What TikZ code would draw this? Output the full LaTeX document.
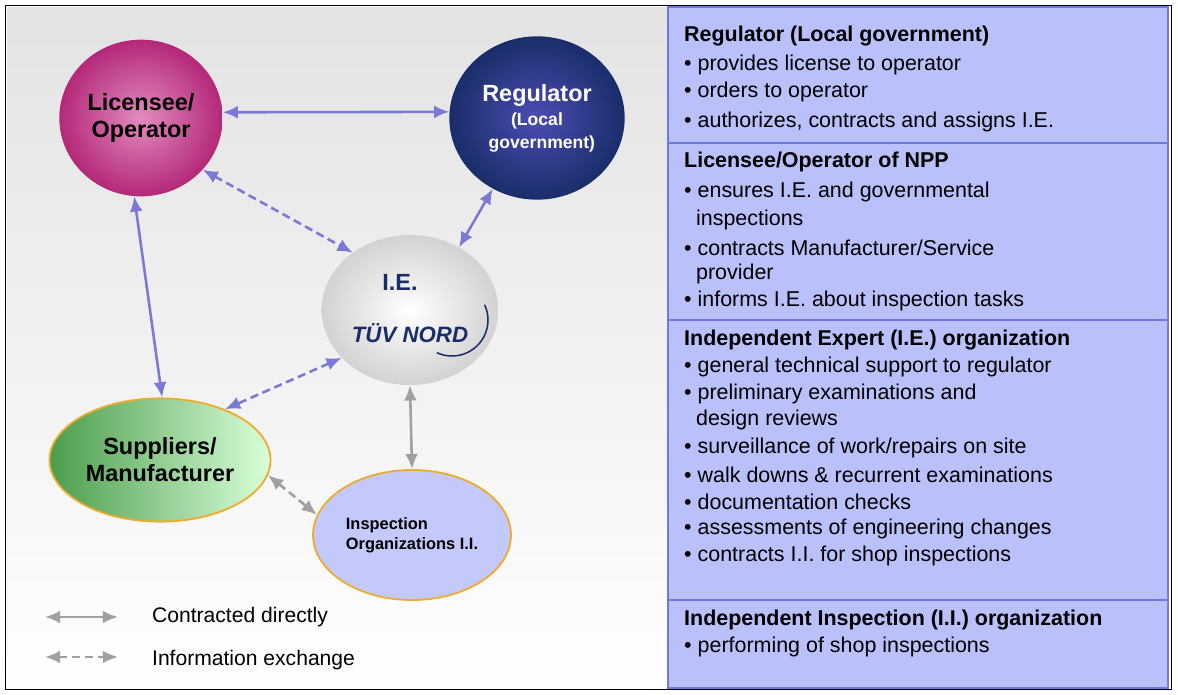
\documentclass[tikz,border=0pt]{standalone}
\usepackage{fontspec}
\setmainfont{Liberation Sans}
\definecolor{mypanel}{RGB}{186,192,250}
\definecolor{myline}{RGB}{110,122,225}
\definecolor{myarrow}{RGB}{122,122,214}
\definecolor{mygray}{RGB}{160,160,160}
\definecolor{myorange}{RGB}{240,170,40}
\definecolor{mynavy}{RGB}{26,45,106}
\definecolor{mypink}{RGB}{225,140,190}
\definecolor{mymagenta}{RGB}{180,40,120}
\usetikzlibrary{arrows.meta,shapes.geometric,positioning}
\tikzset{
  party/.style={ellipse,draw=none,align=center,font=\bfseries\fontsize{20}{23}\selectfont},
  link/.style={{Latex[length=13pt,width=11pt]}-{Latex[length=13pt,width=11pt]},line width=2.2pt,draw=myarrow},
  info/.style={link,dash pattern=on 7pt off 4pt},
  txt/.style={anchor=west,font=\fontsize{18.3}{20}\selectfont,inner sep=0pt}
}
\begin{document}
\begin{tikzpicture}[x=0.03cm,y=-0.03cm]
\useasboundingbox (0,0) rectangle (1178,694);
% background and panel
\shade[top color=gray!22,bottom color=white] (7,7) rectangle (668,688);
\fill[mypanel] (668,7) rectangle (1168,688);
\draw[myline,line width=1.2pt] (668,7) rectangle (1168,688);
\foreach \y in {143,320,600}
  \draw[myline,line width=1.2pt] (668,\y) -- (1168,\y);
\draw[black] (5,5) rectangle (1171,689);
% parties
\node[party,inner color=mypink,outer color=mymagenta,
  minimum width=4.9cm,minimum height=4.7cm] (lic) at (141,118) {Licensee/\\Operator};
\node[party,inner color=blue!40!gray,outer color=mynavy,text=white,
  minimum width=4.9cm,minimum height=4.9cm] (reg) at (537,118)
  {Regulator\\[-2pt]{\fontsize{15}{17}\selectfont(Local}\\[-4pt]{\fontsize{15}{17}\selectfont\ \ government)}};
\node[party,inner color=white,outer color=gray!35,minimum width=5.3cm,minimum height=4.5cm] (ie) at (410,310) {};
\node[font=\bfseries\fontsize{20}{23}\selectfont,text=mynavy] (ielab) at (400,282) {I.E.};
\node[font=\bfseries\itshape\fontsize{19}{22}\selectfont,text=mynavy] (tuv) at (410,333) {TÜV NORD};
\draw[mynavy,line width=1.3pt] (452,320) ++(115:36) arc (115:-25:36);
\node[party,draw=myorange,line width=1.5pt,left color=green!45!black!70,right color=green!15,
  minimum width=6.3cm,minimum height=3.7cm] (sup) at (160,460) {Suppliers/\\Manufacturer};
\node[party,draw=myorange,line width=1.5pt,fill=mypanel!85!white,font=\bfseries\fontsize{14}{17}\selectfont,
  minimum width=5.5cm,minimum height=3.9cm,align=left] (insp) at (412,535) {Inspection\\Organizations I.I.};
% connectors
\draw[link] (lic.4) -- (reg.176);
\draw[link] (lic.265) -- (sup.88);
\draw[info] (lic.-40) -- (ie.135);
\draw[link] (reg.238) -- (ie.52);
\draw[info] (ie.215) -- (sup.38);
\draw[link,draw=mygray] (ie.south) -- (insp.north);
\draw[info,draw=mygray] (sup.-8) -- (insp.168);
% legend
\coordinate (la) at (45,617); \coordinate (lb) at (118,617);
\coordinate (lc) at (45,657); \coordinate (ld) at (118,657);
\draw[link,draw=mygray] (la) -- (lb);
\draw[info,draw=mygray] (lc) -- (ld);
\node[anchor=west,font=\fontsize{18}{21}\selectfont] (leg1) at (148,617) {Contracted directly};
\node[anchor=west,font=\fontsize{18}{21}\selectfont] (leg2) at (148,660) {Information exchange};
% panel text
\foreach \y/\t [count=\i] in {
  36/{\textbf{Regulator (Local government)}},
  65/{• provides license to operator},
  92/{• orders to operator},
  122/{• authorizes, contracts and assigns I.E.},
  162/{\textbf{Licensee/Operator of NPP}},
  192/{• ensures I.E. and governmental},
  220/{\ \ inspections},
  248/{• contracts Manufacturer/Service},
  274/{\ \ provider},
  301/{• informs I.E. about inspection tasks},
  340/{\textbf{Independent Expert (I.E.) organization}},
  367/{• general technical support to regulator},
  394/{• preliminary examinations and},
  420/{\ \ design reviews},
  448/{• surveillance of work/repairs on site},
  475/{• walk downs \& recurrent examinations},
  502/{• documentation checks},
  529/{• assessments of engineering changes},
  556/{• contracts I.I. for shop inspections},
  620/{\textbf{Independent Inspection (I.I.) organization}},
  647/{• performing of shop inspections}}
  \node[txt] (t\i) at (684,\y) {\t};
\end{tikzpicture}
\end{document}
